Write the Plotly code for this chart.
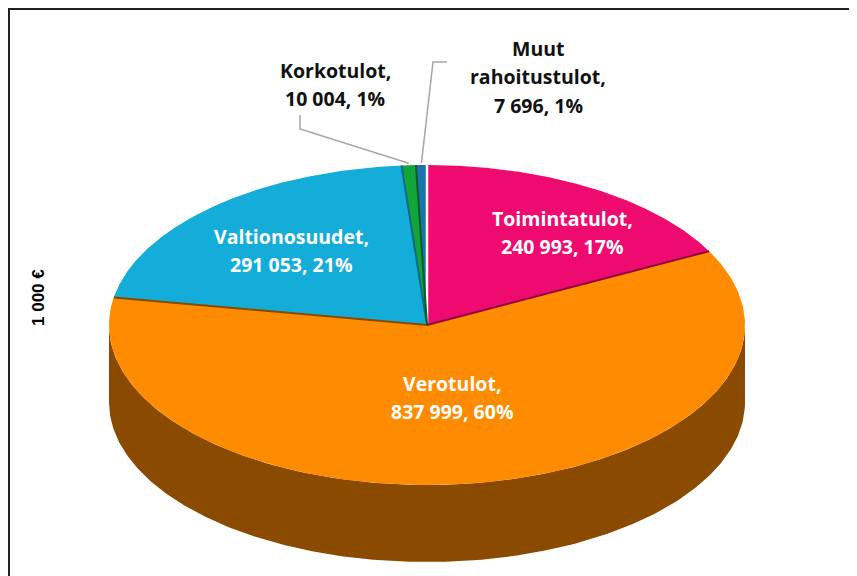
import numpy as np
import plotly.graph_objects as go

# ---- data ----
categories = ["Toimintatulot", "Verotulot", "Valtionosuudet", "Korkotulot", "Muut rahoitustulot"]
values = [240993, 837999, 291053, 10004, 7696]
top_colors = ["#EE0A6F", "#FF8C00", "#14ACD9", "#12A63A", "#1C72AE"]
side_colors = ["#8E0642", "#8A4A00", "#0B6A86", "#0A5E22", "#0F4268"]

# ---- geometry (pixel space) ----
W, H = 857, 576
OFF = 8  # page body margin
cx, cy, rx, ry, depth = 427, 325, 318, 160, 77

total = sum(values)
fracs = [v / total for v in values]
cum = np.concatenate([[0], np.cumsum(fracs)])


def theta(f):
    return np.deg2rad(90 - 360 * f)


def pt(t, dy=0):
    return cx + rx * np.cos(t), cy - ry * np.sin(t) + dy


fig = go.Figure()

# side walls (lower half of the ellipse)
for i in range(len(values)):
    t0, t1 = theta(cum[i]), theta(cum[i + 1])
    ts = np.linspace(t0, t1, 300)
    mask = np.sin(ts) < 0
    if mask.sum() < 2:
        continue
    seg = ts[mask]
    xt, yt = pt(seg)
    xb, yb = pt(seg[::-1], depth)
    fig.add_trace(go.Scatter(x=np.concatenate([xt, xb]), y=np.concatenate([yt, yb]),
                             fill="toself", fillcolor=side_colors[i], mode="lines",
                             line=dict(width=0, color=side_colors[i]), hoverinfo="skip"))

# top faces
for i in range(len(values)):
    t0, t1 = theta(cum[i]), theta(cum[i + 1])
    ts = np.linspace(t0, t1, 300)
    xa, ya = pt(ts)
    fig.add_trace(go.Scatter(x=np.concatenate([[cx], xa, [cx]]), y=np.concatenate([[cy], ya, [cy]]),
                             fill="toself", fillcolor=top_colors[i], mode="lines",
                             line=dict(width=0, color=top_colors[i]), hoverinfo="skip"))

# radial edges between slices
for i in range(len(values)):
    t = theta(cum[i])
    ex, ey = pt(t)
    col = "white" if i == 0 else side_colors[i - 1]
    fig.add_trace(go.Scatter(x=[cx, ex], y=[cy, ey], mode="lines",
                             line=dict(width=2.5 if i == 0 else 2, color=col), hoverinfo="skip"))

# labels
def fmt(v):
    return f"{v:,}".replace(",", " ")

pcts = [round(f * 100) for f in fracs]
label_lines = [
    [f"{categories[0]},", f"{fmt(values[0])}, {pcts[0]}%"],
    [f"{categories[1]},", f"{fmt(values[1])}, {pcts[1]}%"],
    [f"{categories[2]},", f"{fmt(values[2])}, {pcts[2]}%"],
    [f"{categories[3]},", f"{fmt(values[3])}, {pcts[3]}%"],
    ["Muut", "rahoitustulot,", f"{fmt(values[4])}, {pcts[4]}%"],
]
label_pos = [(562, 218), (452, 383), (291, 236), (335, 70), (538, 48)]
label_col = ["white", "white", "white", "#111111", "#111111"]
for lines, (lx, ly), col in zip(label_lines, label_pos, label_col):
    for k, s in enumerate(lines):
        fig.add_annotation(x=lx, y=ly + 28.5 * k, xref="x", yref="y", text=s, showarrow=False,
                           font=dict(family="Open Sans", size=19.5, color=col, weight="bold"),
                           xanchor="center", yanchor="middle")

# leader lines for small slices
mid3 = pt(theta((cum[3] + cum[4]) / 2))
mid4 = pt(theta((cum[4] + cum[5]) / 2))
fig.add_trace(go.Scatter(x=[300, 300, mid3[0]], y=[115, 129, mid3[1] - 2], mode="lines",
                         line=dict(color="#A6A6A6", width=1.5), hoverinfo="skip"))
fig.add_trace(go.Scatter(x=[447, 433, mid4[0]], y=[62, 62, mid4[1] - 2], mode="lines",
                         line=dict(color="#A6A6A6", width=1.5), hoverinfo="skip"))

# unit label
fig.add_annotation(x=38, y=298, xref="x", yref="y", text="<b>1 000 €</b>", showarrow=False, textangle=-90,
                   font=dict(family="Liberation Sans", size=17, color="black"))

# frame
fig.add_shape(type="rect", x0=9, y0=9, x1=880, y1=600, xref="x", yref="y",
              line=dict(color="#222222", width=2), fillcolor="rgba(0,0,0,0)")

fig.update_layout(width=W, height=H, margin=dict(l=0, r=0, t=0, b=0),
                  paper_bgcolor="white", plot_bgcolor="white", showlegend=False,
                  xaxis=dict(range=[OFF, W + OFF], visible=False, fixedrange=True),
                  yaxis=dict(range=[H + OFF, OFF], visible=False, fixedrange=True))

fig.write_html("out.html")
